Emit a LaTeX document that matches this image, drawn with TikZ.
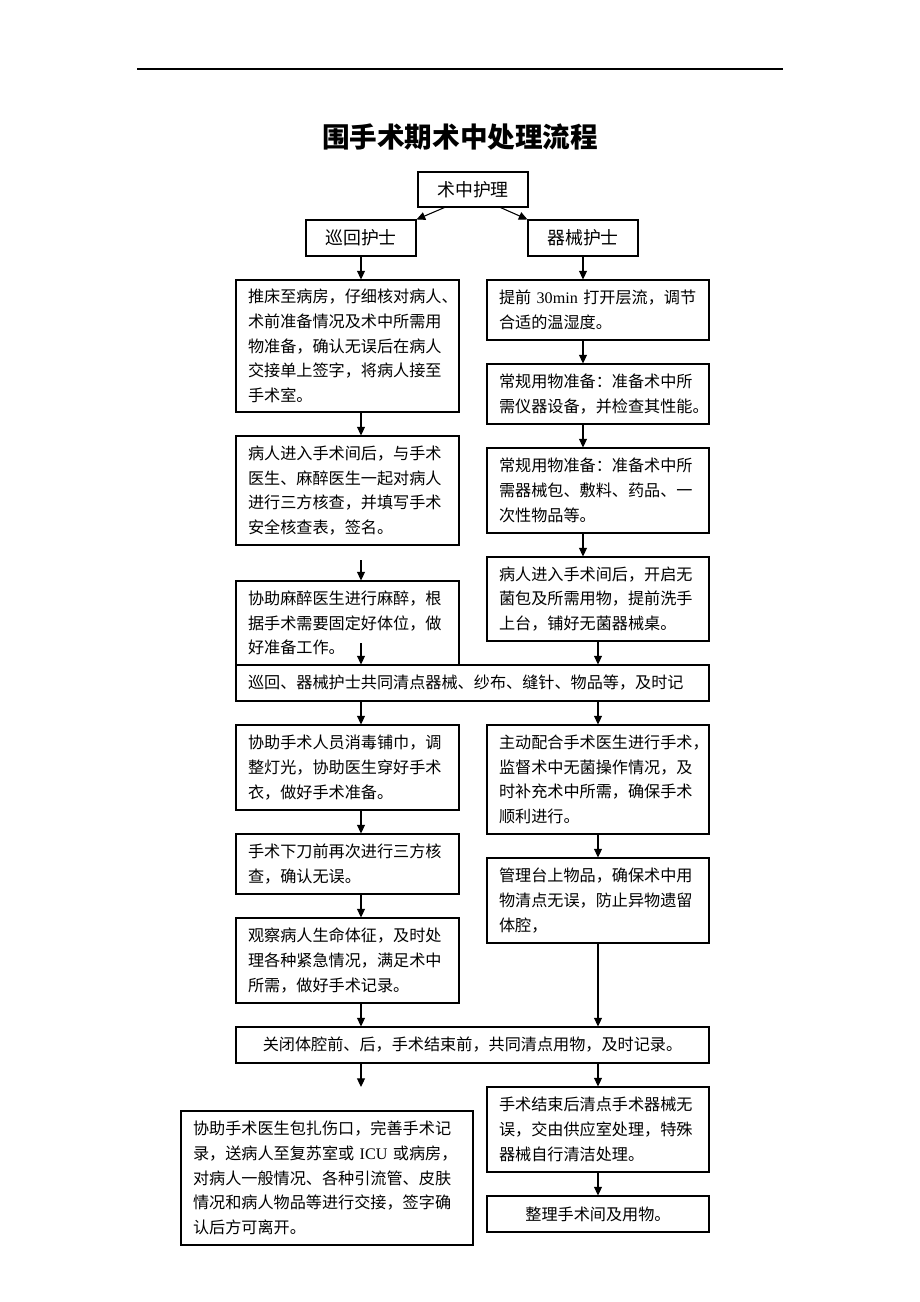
\documentclass[tikz,border=0pt]{standalone}
\usepackage{fontspec}
\setmainfont{Noto Sans CJK SC}
\newfontfamily\lat{Liberation Serif}
\usetikzlibrary{arrows.meta,calc}
\newcommand\mkbox[7]{\node[#1, minimum width={(#5-#3)*0.75pt}, minimum height={(#6-#4)*0.75pt}] (#2) at ({(#3+#5)/2},{(#4+#6)/2}) {#7};}
\begin{document}
\begin{tikzpicture}[x=0.75pt,y=-0.75pt,
  box/.style={draw, line width=0.8pt, inner sep=0pt, anchor=center, font=\fontsize{12.1pt}{18.5pt}\selectfont},
  tbox/.style={box, text width=#1, align=left},
  hbox/.style={draw, line width=0.8pt, inner sep=0pt, anchor=center, font=\fontsize{13.4pt}{16pt}\selectfont},
  arr/.style={line width=0.8pt, -{Triangle[length=6.5pt,width=6pt]}},
  rule/.style={line width=0.8pt}]
\useasboundingbox (0,0) rectangle (920,1302);
\fill[white] (0,0) rectangle (920,1302);
% header rule and title
\coordinate (hl) at (137,69);
\coordinate (hr) at (783,69);
\draw[rule] (hl) -- (hr);
\node[font=\fontsize{20.7pt}{24pt}\selectfont\bfseries] (title) at (460,137) {围手术期术中处理流程};
% column coordinates
\coordinate (cl) at (361,0);
\coordinate (cr) at (583,0);
\coordinate (cs) at (598,0);
% top boxes
\mkbox{hbox}{top}{418}{172}{528}{207}{术中护理}
\mkbox{hbox}{xh}{306}{220}{416}{256}{巡回护士}
\mkbox{hbox}{qx}{528}{220}{638}{256}{器械护士}
% left column
\mkbox{tbox=149.25pt}{L1}{236}{280}{459}{412}{推床至病房，仔细核对病人、\\术前准备情况及术中所需用\\物准备，确认无误后在病人\\交接单上签字，将病人接至\\手术室。}
\mkbox{tbox=149.25pt}{L2}{236}{436}{459}{545}{病人进入手术间后，与手术\\医生、麻醉医生一起对病人\\进行三方核查，并填写手术\\安全核查表，签名。}
\mkbox{tbox=149.25pt}{L3}{236}{581}{459}{665}{协助麻醉医生进行麻醉，根\\据手术需要固定好体位，做\\好准备工作。}
% right column
\mkbox{tbox=148.5pt}{R1}{487}{280}{709}{340}{提前 {\lat 30min} 打开层流，调节\\合适的温湿度。}
\mkbox{tbox=148.5pt}{R2}{487}{364}{709}{424}{常规用物准备：准备术中所\\需仪器设备，并检查其性能。}
\mkbox{tbox=148.5pt}{R3}{487}{448}{709}{533}{常规用物准备：准备术中所\\需器械包、敷料、药品、一\\次性物品等。}
\mkbox{tbox=148.5pt}{R4}{487}{557}{709}{641}{病人进入手术间后，开启无\\菌包及所需用物，提前洗手\\上台，铺好无菌器械桌。}
% first wide box
\mkbox{tbox=336.75pt, fill=white}{W1}{236}{665}{709}{701}{巡回、器械护士共同清点器械、纱布、缝针、物品等，及时记}
% middle section
\mkbox{tbox=149.25pt}{L4}{236}{725}{459}{810}{协助手术人员消毒铺巾，调\\整灯光，协助医生穿好手术\\衣，做好手术准备。}
\mkbox{tbox=149.25pt}{L5}{236}{834}{459}{894}{手术下刀前再次进行三方核\\查，确认无误。}
\mkbox{tbox=149.25pt}{L6}{236}{918}{459}{1003}{观察病人生命体征，及时处\\理各种紧急情况，满足术中\\所需，做好手术记录。}
\mkbox{tbox=148.5pt}{R5}{487}{725}{709}{834}{主动配合手术医生进行手术，\\监督术中无菌操作情况，及\\时补充术中所需，确保手术\\顺利进行。}
\mkbox{tbox=148.5pt}{R6}{487}{858}{709}{943}{管理台上物品，确保术中用\\物清点无误，防止异物遗留\\体腔，}
% second wide box
\mkbox{box}{W2}{236}{1027}{709}{1063}{关闭体腔前、后，手术结束前，共同清点用物，及时记录。}
% bottom
\mkbox{tbox=201pt}{L7}{181}{1111}{473}{1245}{协助手术医生包扎伤口，完善手术记\\录，送病人至复苏室或 {\lat ICU} 或病房，\\对病人一般情况、各种引流管、皮肤\\情况和病人物品等进行交接，签字确\\认后方可离开。}
\mkbox{tbox=148.5pt}{R7}{487}{1087}{709}{1172}{手术结束后清点手术器械无\\误，交由供应室处理，特殊\\器械自行清洁处理。}
\mkbox{box}{R8}{487}{1196}{709}{1232}{整理手术间及用物。}
% free arrow starts
\coordinate (a23) at (361,560);
\coordinate (a3w) at (361,643);
\coordinate (aend) at (361,1087);
% connectors
\draw[arr] ([xshift=20.25pt]top.south west) -- (xh.north east);
\draw[arr] ([xshift=-21pt]top.south east) -- (qx.north west);
\draw[arr] (xh.south) -- (xh.south |- L1.north);
\draw[arr] (qx.south) -- (qx.south |- R1.north);
\draw[arr] (L1.south -| cl) -- (L2.north -| cl);
\draw[arr] (a23) -- (L3.north -| cl);
\draw[arr] (a3w) -- (W1.north -| cl);
\draw[arr] (R1.south -| cr) -- (R2.north -| cr);
\draw[arr] (R2.south -| cr) -- (R3.north -| cr);
\draw[arr] (R3.south -| cr) -- (R4.north -| cr);
\draw[arr] (R4.south -| cs) -- (W1.north -| cs);
\draw[arr] (W1.south -| cl) -- (L4.north -| cl);
\draw[arr] (W1.south -| cs) -- (R5.north -| cs);
\draw[arr] (L4.south -| cl) -- (L5.north -| cl);
\draw[arr] (L5.south -| cl) -- (L6.north -| cl);
\draw[arr] (L6.south -| cl) -- (W2.north -| cl);
\draw[arr] (R5.south -| cs) -- (R6.north -| cs);
\draw[arr] (R6.south -| cs) -- (W2.north -| cs);
\draw[arr] (W2.south -| cl) -- (aend);
\draw[arr] (W2.south -| cs) -- (R7.north -| cs);
\draw[arr] (R7.south -| cs) -- (R8.north -| cs);
\end{tikzpicture}
\end{document}
